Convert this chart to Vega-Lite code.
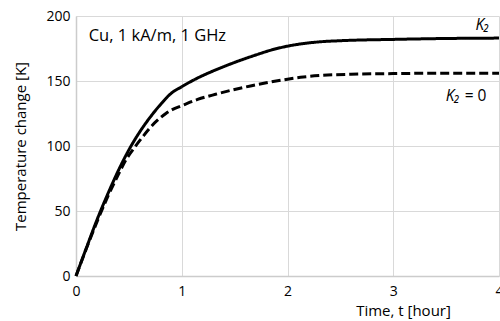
{
  "$schema": "https://vega.github.io/schema/vega-lite/v6.json",
  "autosize": "none",
  "width": 423,
  "height": 260,
  "padding": {"left": 76, "top": 16, "right": 1, "bottom": 45},
  "background": "white",
  "config": {
    "view": {"stroke": null},
    "font": "Open Sans",
    "axis": {
      "labelFont": "Open Sans",
      "titleFont": "Open Sans",
      "labelFontSize": 14,
      "titleFontSize": 15,
      "labelColor": "#000000",
      "titleColor": "#000000",
      "titleFontWeight": "normal",
      "gridColor": "#d9d9d9",
      "gridWidth": 1,
      "domainColor": "#cccccc",
      "domainWidth": 1.5,
      "ticks": false
    }
  },
  "datasets": {
    "curves": [
      {"t": 0, "v": 0, "s": "K2"},
      {"t": 0.1, "v": 22, "s": "K2"},
      {"t": 0.2, "v": 43.5, "s": "K2"},
      {"t": 0.3, "v": 63, "s": "K2"},
      {"t": 0.4, "v": 81, "s": "K2"},
      {"t": 0.5, "v": 97, "s": "K2"},
      {"t": 0.6, "v": 110.5, "s": "K2"},
      {"t": 0.7, "v": 122, "s": "K2"},
      {"t": 0.8, "v": 132, "s": "K2"},
      {"t": 0.9, "v": 140.5, "s": "K2"},
      {"t": 1.0, "v": 145.6, "s": "K2"},
      {"t": 1.15, "v": 152.3, "s": "K2"},
      {"t": 1.32, "v": 158.5, "s": "K2"},
      {"t": 1.5, "v": 164.3, "s": "K2"},
      {"t": 1.7, "v": 170, "s": "K2"},
      {"t": 1.85, "v": 173.9, "s": "K2"},
      {"t": 2.0, "v": 176.8, "s": "K2"},
      {"t": 2.15, "v": 178.8, "s": "K2"},
      {"t": 2.3, "v": 180.1, "s": "K2"},
      {"t": 2.5, "v": 181, "s": "K2"},
      {"t": 3.0, "v": 182, "s": "K2"},
      {"t": 3.5, "v": 182.7, "s": "K2"},
      {"t": 4.0, "v": 183, "s": "K2"},
      {"t": 0, "v": 0, "s": "K2=0"},
      {"t": 0.1, "v": 21.5, "s": "K2=0"},
      {"t": 0.2, "v": 42, "s": "K2=0"},
      {"t": 0.3, "v": 61, "s": "K2=0"},
      {"t": 0.4, "v": 78, "s": "K2=0"},
      {"t": 0.47, "v": 89, "s": "K2=0"},
      {"t": 0.55, "v": 98.5, "s": "K2=0"},
      {"t": 0.63, "v": 107, "s": "K2=0"},
      {"t": 0.7, "v": 114, "s": "K2=0"},
      {"t": 0.78, "v": 120.5, "s": "K2=0"},
      {"t": 0.85, "v": 125, "s": "K2=0"},
      {"t": 0.91, "v": 128, "s": "K2=0"},
      {"t": 1.0, "v": 131, "s": "K2=0"},
      {"t": 1.15, "v": 135.8, "s": "K2=0"},
      {"t": 1.32, "v": 139.8, "s": "K2=0"},
      {"t": 1.5, "v": 143.5, "s": "K2=0"},
      {"t": 1.65, "v": 146.2, "s": "K2=0"},
      {"t": 1.8, "v": 148.6, "s": "K2=0"},
      {"t": 2.0, "v": 151.4, "s": "K2=0"},
      {"t": 2.15, "v": 153.1, "s": "K2=0"},
      {"t": 2.3, "v": 154.2, "s": "K2=0"},
      {"t": 2.6, "v": 155.2, "s": "K2=0"},
      {"t": 3.0, "v": 155.7, "s": "K2=0"},
      {"t": 3.5, "v": 156, "s": "K2=0"},
      {"t": 4.0, "v": 156, "s": "K2=0"}
    ],
    "labels": [
      {"t": 0.12, "v": 184.6, "text": "Cu, 1 kA/m, 1 GHz", "kind": "left"},
      {"t": 3.675, "v": 138.5, "text": "= 0", "kind": "eq"},
      {"t": 3.91, "v": 193, "text": "K₂", "kind": "right"},
      {"t": 3.63, "v": 138.5, "text": "K₂", "kind": "right"}
    ]
  },
  "layer": [
    {
      "data": {"name": "curves"},
      "mark": {"type": "line", "strokeWidth": 3, "color": "#000000", "interpolate": "monotone"},
      "encoding": {
        "x": {
          "field": "t", "type": "quantitative",
          "scale": {"domain": [0, 4], "nice": false},
          "axis": {
            "values": [0, 1, 2, 3, 4],
            "format": "d",
            "labelPadding": 8,
            "labelFlush": false,
            "title": "Time, t [hour]",
            "titleX": 327,
            "titleY": 39,
            "titleAlign": "center",
            "titleBaseline": "alphabetic"
          }
        },
        "y": {
          "field": "v", "type": "quantitative",
          "scale": {"domain": [0, 200], "nice": false},
          "axis": {
            "values": [0, 50, 100, 150, 200],
            "labelPadding": 6,
            "labelFlush": false,
            "title": "Temperature change [K]",
            "titlePadding": 17
          }
        },
        "strokeDash": {
          "field": "s", "type": "nominal",
          "scale": {"domain": ["K2", "K2=0"], "range": [[1, 0], [9, 4]]},
          "legend": null
        }
      }
    },
    {
      "data": {"name": "labels"},
      "transform": [{"filter": "datum.kind === 'left'"}],
      "mark": {"type": "text", "font": "Open Sans", "fontSize": 16.5, "color": "#000000", "baseline": "middle", "align": "left"},
      "encoding": {
        "x": {"field": "t", "type": "quantitative"},
        "y": {"field": "v", "type": "quantitative"},
        "text": {"field": "text"}
      }
    },
    {
      "data": {"name": "labels"},
      "transform": [{"filter": "datum.kind === 'eq'"}],
      "mark": {"type": "text", "font": "Open Sans", "fontSize": 15.5, "color": "#000000", "baseline": "middle", "align": "left"},
      "encoding": {
        "x": {"field": "t", "type": "quantitative"},
        "y": {"field": "v", "type": "quantitative"},
        "text": {"field": "text"}
      }
    },
    {
      "data": {"name": "labels"},
      "transform": [{"filter": "datum.kind === 'right'"}],
      "mark": {"type": "text", "font": "Open Sans", "fontSize": 15.5, "fontStyle": "italic", "color": "#000000", "baseline": "middle", "align": "right"},
      "encoding": {
        "x": {"field": "t", "type": "quantitative"},
        "y": {"field": "v", "type": "quantitative"},
        "text": {"field": "text"}
      }
    }
  ]
}
